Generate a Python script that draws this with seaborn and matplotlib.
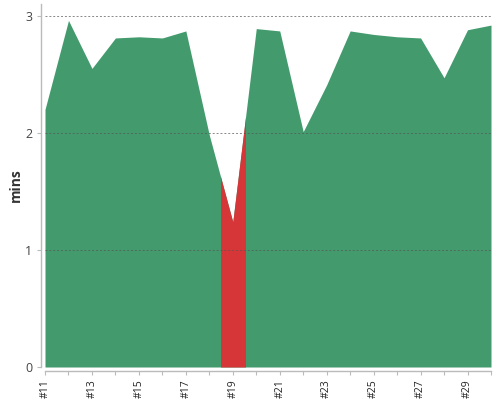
import numpy as np
import matplotlib
matplotlib.use("Agg")
import matplotlib.pyplot as plt
import matplotlib.ticker as mticker
from matplotlib.patches import Rectangle
import seaborn as sns

# ── Data ──────────────────────────────────────────────────────────────────────
race_no = [11, 12, 13, 14, 15, 16, 17, 18, 19, 20,
           21, 22, 23, 24, 25, 26, 27, 28, 29, 30]
mins = [2.20, 2.96, 2.55, 2.81, 2.82, 2.81, 2.87, 1.98, 1.24, 2.89,
        2.87, 2.01, 2.41, 2.87, 2.84, 2.82, 2.81, 2.47, 2.88, 2.92]
highlight = [19]          # races shown in red
y_ticks = [0, 1, 2, 3]

# ── Style ─────────────────────────────────────────────────────────────────────
sns.set_theme(style="white")
plt.rcParams["font.family"] = ["Open Sans", "DejaVu Sans"]
GREEN = "#439b6d"
RED = "#d63638"

fig = plt.figure(figsize=(5, 4), dpi=100)
ax = fig.add_axes([0.09, 0.0825, 0.892, 0.9075])

x = np.array(race_no)
y = np.array(mins)

ax.fill_between(x, 0, y, color=GREEN, linewidth=0, zorder=1)
for r in highlight:
    red = ax.fill_between(x, 0, y, color=RED, linewidth=0, zorder=2)
    red.set_clip_path(Rectangle((r - 0.5, 0), 1, 10, transform=ax.transData))

ax.set_xlim(race_no[0], race_no[-1])
ax.set_ylim(0, 3.1)

# grid lines on top of the area
for v in y_ticks[1:]:
    ax.axhline(v, color="#555555", alpha=0.7, linewidth=0.7,
               linestyle=(0, (2, 2)), zorder=3)

ax.set_yticks(y_ticks)
ax.set_xticks(race_no[::2])
ax.set_xticklabels([f"#{n}" for n in race_no[::2]])
ax.xaxis.set_minor_locator(mticker.FixedLocator(race_no[1::2]))

ax.tick_params(axis="x", which="both", bottom=True, length=3, width=0.8,
               color="#bbbbbb", labelsize=7.5, labelcolor="#222222", pad=3,
               labelrotation=90)
ax.tick_params(axis="y", left=True, length=3, width=0.8, color="#bbbbbb",
               labelsize=9, labelcolor="#444444", pad=3)

ax.set_ylabel("mins", fontsize=10, fontweight="bold", color="#333333", labelpad=2)

sns.despine(ax=ax, offset=3)
for s in ["left", "bottom"]:
    ax.spines[s].set_color("#bbbbbb")
    ax.spines[s].set_linewidth(1.0)

fig.savefig("out.png", dpi=100)
